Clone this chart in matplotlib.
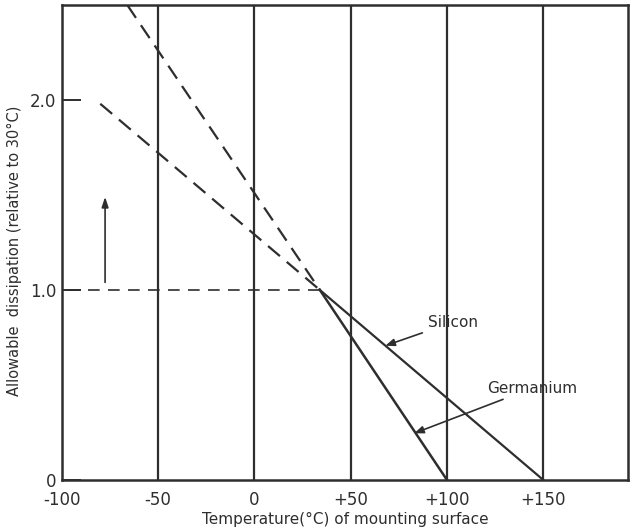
import matplotlib
matplotlib.use("Agg")
import matplotlib.pyplot as plt

# temperature (deg C) / relative dissipation
knee_t = 34
germ_solid_t = [knee_t, 100]
germ_solid_p = [1.0, 0.0]
germ_dash_t = [-66, knee_t]
germ_dash_p = [2.5, 1.0]
sil_solid_t = [knee_t, 150]
sil_solid_p = [1.0, 0.0]
sil_dash_t = [-80, knee_t]
sil_dash_p = [1.98, 1.0]
ref_t = [-97, knee_t]
ref_p = [1.0, 1.0]

grid_t = [-50, 0, 50, 100, 150]
xticks = [-100, -50, 0, 50, 100, 150]
xlabels = ["-100", "-50", "0", "+50", "+100", "+150"]
yticks = [0, 1.0, 2.0]
ylabels = ["0", "1.0", "2.0"]

ink = "#2e2e2e"

fig = plt.figure(figsize=(6.3, 5.29), dpi=100)
ax = fig.add_axes([0.098, 0.0926, 0.899, 0.898])

for t in grid_t:
    ax.axvline(t, color=ink, lw=1.6)

ax.plot(germ_solid_t, germ_solid_p, color=ink, lw=1.8)
ax.plot(sil_solid_t, sil_solid_p, color=ink, lw=1.6)
ax.plot(germ_dash_t, germ_dash_p, color=ink, lw=1.6, ls=(0, (7, 4)))
ax.plot(sil_dash_t, sil_dash_p, color=ink, lw=1.6, ls=(0, (7, 4)))
ax.plot(ref_t, ref_p, color=ink, lw=1.2, ls=(0, (7, 5)))

ax.annotate("Silicon", xy=(68, 0.707), xytext=(90, 0.83),
            fontsize=11, color=ink, va="center",
            arrowprops=dict(arrowstyle="-|>,head_length=0.5,head_width=0.2",
                            color=ink, lw=1.2, shrinkA=2, shrinkB=0))
ax.annotate("Germanium", xy=(83, 0.246), xytext=(121, 0.484),
            fontsize=11, color=ink, va="center",
            arrowprops=dict(arrowstyle="-|>,head_length=0.5,head_width=0.2",
                            color=ink, lw=1.2, shrinkA=2, shrinkB=0))
ax.annotate("", xy=(-77.5, 1.49), xytext=(-77.5, 1.04),
            arrowprops=dict(arrowstyle="-|>,head_length=0.6,head_width=0.2",
                            color=ink, lw=1.2, shrinkA=0, shrinkB=0))

ax.set_xlim(-97, 194)
ax.set_ylim(0, 2.5)
ax.set_xticks(xticks)
ax.set_xticklabels(xlabels, fontsize=12, color=ink)
ax.set_yticks(yticks)
ax.set_yticklabels(ylabels, fontsize=12, color=ink)
ax.tick_params(axis="x", length=0, pad=8)
ax.tick_params(axis="y", direction="in", length=14, width=1.4, color=ink, pad=4)
for s in ax.spines.values():
    s.set_color(ink)
    s.set_linewidth(1.8)

ax.set_xlabel("Temperature(°C) of mounting surface", fontsize=11, color=ink, labelpad=2)
ax.set_ylabel("Allowable  dissipation (relative to 30°C)", fontsize=10.5, color=ink)
ax.yaxis.set_label_coords(-0.07, 0.482)

fig.savefig("out.png", dpi=100)
